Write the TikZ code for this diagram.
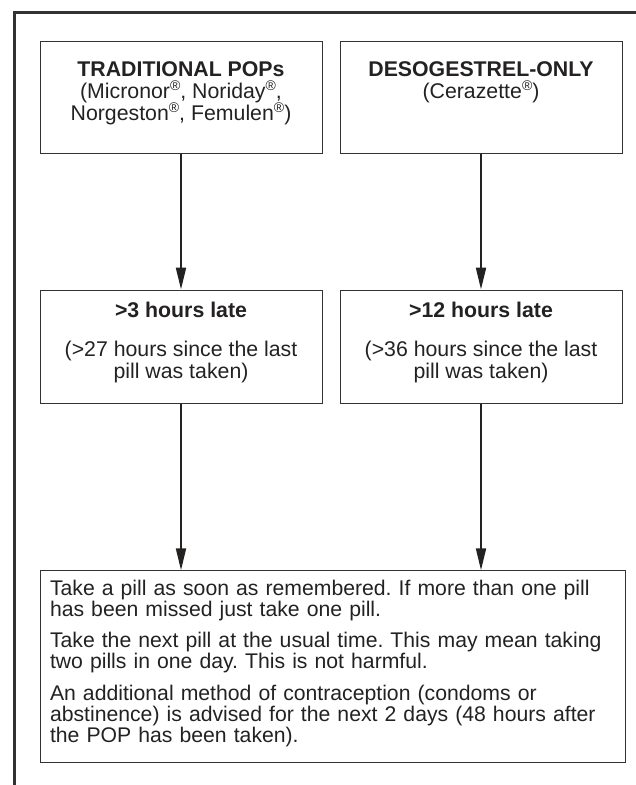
\documentclass[tikz,border=0pt]{standalone}
\usepackage{fontspec}
\setmainfont{Liberation Sans}
\usepackage{tikz}
\usetikzlibrary{arrows.meta}
\definecolor{inkColor}{rgb}{0.14,0.13,0.13}
\definecolor{lineColor}{rgb}{0.2,0.2,0.2}
\newcommand{\regmark}{\raisebox{0.36em}{\fontsize{14pt}{14pt}\selectfont\textregistered}}
\newcommand{\lowpad}{\\[-10pt]\mbox{}}
\frenchspacing

\begin{document}
\begin{tikzpicture}[x=1pt,y=-1pt]

          \tikzstyle{frameLine} = [line width=3pt, lineColor];
          \tikzstyle{pillBox} = [draw=lineColor, line width=1pt, text=inkColor, align=center, inner sep=0pt, minimum width=282pt, minimum height=112pt, font=\fontsize{21.3pt}{22pt}\selectfont];
          \tikzstyle{adviceBox} = [draw=lineColor, line width=1pt, text=inkColor, align=left, inner xsep=10pt, inner ysep=0pt, text width=565pt, minimum height=191.5pt, font=\fontsize{21.2pt}{21pt}\selectfont];
          \tikzstyle{arrowEdge} = [line width=2pt, inkColor, -{Triangle[length=22pt,width=10pt]}];

          \useasboundingbox (0,0) rectangle (635,785);
          \draw[frameLine] (14,786) -- (14,12) -- (636,12);

          \node[pillBox] (trad) at (181,97) {\textbf{TRADITIONAL POPs}\\(Micronor\regmark, Noriday\regmark,\\Norgeston\regmark, Femulen\regmark)\lowpad};
          \node[pillBox] (deso) at (481,97) {\textbf{DESOGESTREL-ONLY}\\(Cerazette\regmark)\\\vphantom{(g)}\lowpad};
          \node[pillBox, minimum height=113pt] (late3) at (181,346.5) {\textbf{>3 hours late}\\[17pt](>27 hours since the last\\pill was taken)\lowpad};
          \node[pillBox, minimum height=113pt] (late12) at (481,346.5) {\textbf{>12 hours late}\\[17pt](>36 hours since the last\\pill was taken)\lowpad};
          \node[adviceBox] (advice) at (332.5,666.5) {Take a pill as soon as remembered. If more than one pill\\has been missed just take one pill.\\[10.5pt]Take the next pill at the usual time. This may mean taking\\two pills in one day. This is not harmful.\\[10.5pt]An additional method of contraception (condoms or\\abstinence) is advised for the next 2 days (48 hours after\\the POP has been taken).\lowpad};

          \draw[arrowEdge] (trad) -- (late3);
          \draw[arrowEdge] (deso) -- (late12);
          \draw[arrowEdge] (late3.south) -- (late3.south |- advice.north);
          \draw[arrowEdge] (late12.south) -- (late12.south |- advice.north);
        \end{tikzpicture}
\end{document}
